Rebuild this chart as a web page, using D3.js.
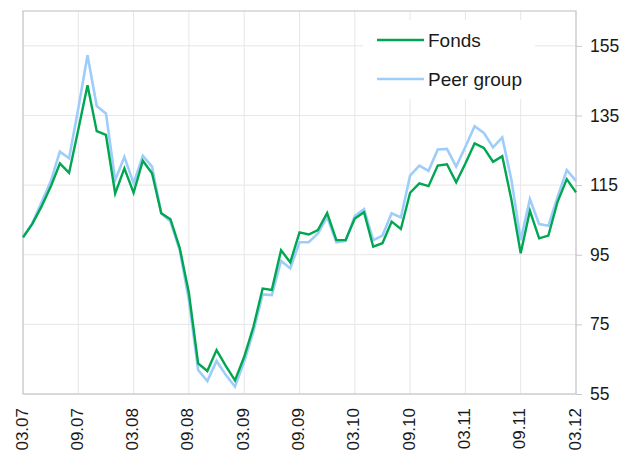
<!DOCTYPE html>
<html><head><meta charset="utf-8">
<script src="https://cdn.jsdelivr.net/npm/d3@7"></script>
<style>body{margin:0;background:#fff}svg{display:block}text{font-family:Arial,"Liberation Sans",sans-serif;fill:#1a1a1a}</style>
</head><body><svg id="c" width="630" height="454"></svg>
<script>
const months = ["03.07","04.07","05.07","06.07","07.07","08.07","09.07","10.07","11.07","12.07","01.08","02.08",
"03.08","04.08","05.08","06.08","07.08","08.08","09.08","10.08","11.08","12.08","01.09","02.09",
"03.09","04.09","05.09","06.09","07.09","08.09","09.09","10.09","11.09","12.09","01.10","02.10",
"03.10","04.10","05.10","06.10","07.10","08.10","09.10","10.10","11.10","12.10","01.11","02.11",
"03.11","04.11","05.11","06.11","07.11","08.11","09.11","10.11","11.11","12.11","01.12","02.12","03.12"];
const fonds = [100,103.8,108.8,114.5,121.2,118.5,131,143.7,130.5,129.4,112.6,119.8,112.8,122,118.4,106.9,105.2,97,84,63.8,61.6,67.6,63.1,58.9,65.7,74.3,85.3,84.9,96.3,92.8,101.4,100.8,102.1,107,99.2,99.2,105.4,107.2,97.3,98.3,104.5,102.4,112.8,115.5,114.7,120.6,121,115.8,121.2,127,125.7,121.7,123.3,110.7,95.4,107.6,99.7,100.5,110.2,116.7,112.9];
const peer = [100,104,110,116,124.6,122.7,137,152.3,137.7,135.6,116.4,123.1,115.5,123.4,120.3,106.9,104.5,96.3,82,61.9,58.7,64.5,60.5,57.1,64.3,72.9,83.6,83.4,93.2,91.1,98.6,98.6,101.1,105.9,98.6,99,106.1,108.1,99.2,100.5,106.9,105.7,117.7,120.6,119.1,125.2,125.4,120.3,126,131.9,130,125.8,128.7,116.4,99.2,111,103.8,103.3,111.6,119.3,116.2];
const xTickLabels = ["03.07","09.07","03.08","09.08","03.09","09.09","03.10","09.10","03.11","09.11","03.12"];
const yTicks = [55,75,95,115,135,155];
const seriesNames = ["Fonds","Peer group"];

const svg = d3.select("#c");
const L=23,R=576,T=11,B=394;
const x = d3.scalePoint().domain(months).range([L,R]);
const y = d3.scaleLinear().domain([55,165]).range([B,T]);

// grid
svg.append("g").selectAll("line").data(yTicks).join("line")
  .attr("x1",L).attr("x2",R).attr("y1",d=>y(d)).attr("y2",d=>y(d))
  .attr("stroke","#e6e6e6").attr("stroke-width",1);
svg.append("g").selectAll("line").data(xTickLabels).join("line")
  .attr("x1",d=>x(d)).attr("x2",d=>x(d)).attr("y1",T).attr("y2",B)
  .attr("stroke","#e6e6e6").attr("stroke-width",1);

// legend background
svg.append("rect").attr("x",363).attr("y",20).attr("width",172).attr("height",79).attr("fill","#fff");

// frame
svg.append("rect").attr("x",L).attr("y",T).attr("width",R-L).attr("height",B-T)
  .attr("fill","none").attr("stroke","#c8c8c8").attr("stroke-width",1.2);

// right axis
const ya = d3.axisRight(y).tickValues(yTicks).tickSize(6).tickPadding(8);
const gy = svg.append("g").attr("transform",`translate(${R},0)`).call(ya);
gy.select(".domain").remove();
gy.selectAll("line").attr("stroke","#c8c8c8");
gy.selectAll("text").style("font-size","17.5px").attr("fill","#1a1a1a");

// bottom labels
svg.append("g").selectAll("text").data(xTickLabels).join("text")
  .attr("transform",d=>`translate(${x(d)+4.5},408) rotate(-90)`)
  .attr("text-anchor","end").style("font-size","17px").text(d=>d);

const line = d3.line().x((d,i)=>x(months[i])).y(d=>y(d));
svg.append("path").datum(peer).attr("d",line).attr("fill","none").attr("stroke","#9fcdfb").attr("stroke-width",2.6).attr("stroke-linejoin","miter");
svg.append("path").datum(fonds).attr("d",line).attr("fill","none").attr("stroke","#00a651").attr("stroke-width",2.4).attr("stroke-linejoin","miter");

// legend
const lg = svg.append("g");
const colors=["#00a651","#9fcdfb"];
seriesNames.forEach((n,i)=>{
  const yy = 40 + i*39;
  lg.append("line").attr("x1",377).attr("x2",424).attr("y1",yy).attr("y2",yy).attr("stroke",colors[i]).attr("stroke-width",2.6);
  lg.append("text").attr("x",428).attr("y",yy+7).style("font-size","19px").text(n);
});
</script></body></html>
